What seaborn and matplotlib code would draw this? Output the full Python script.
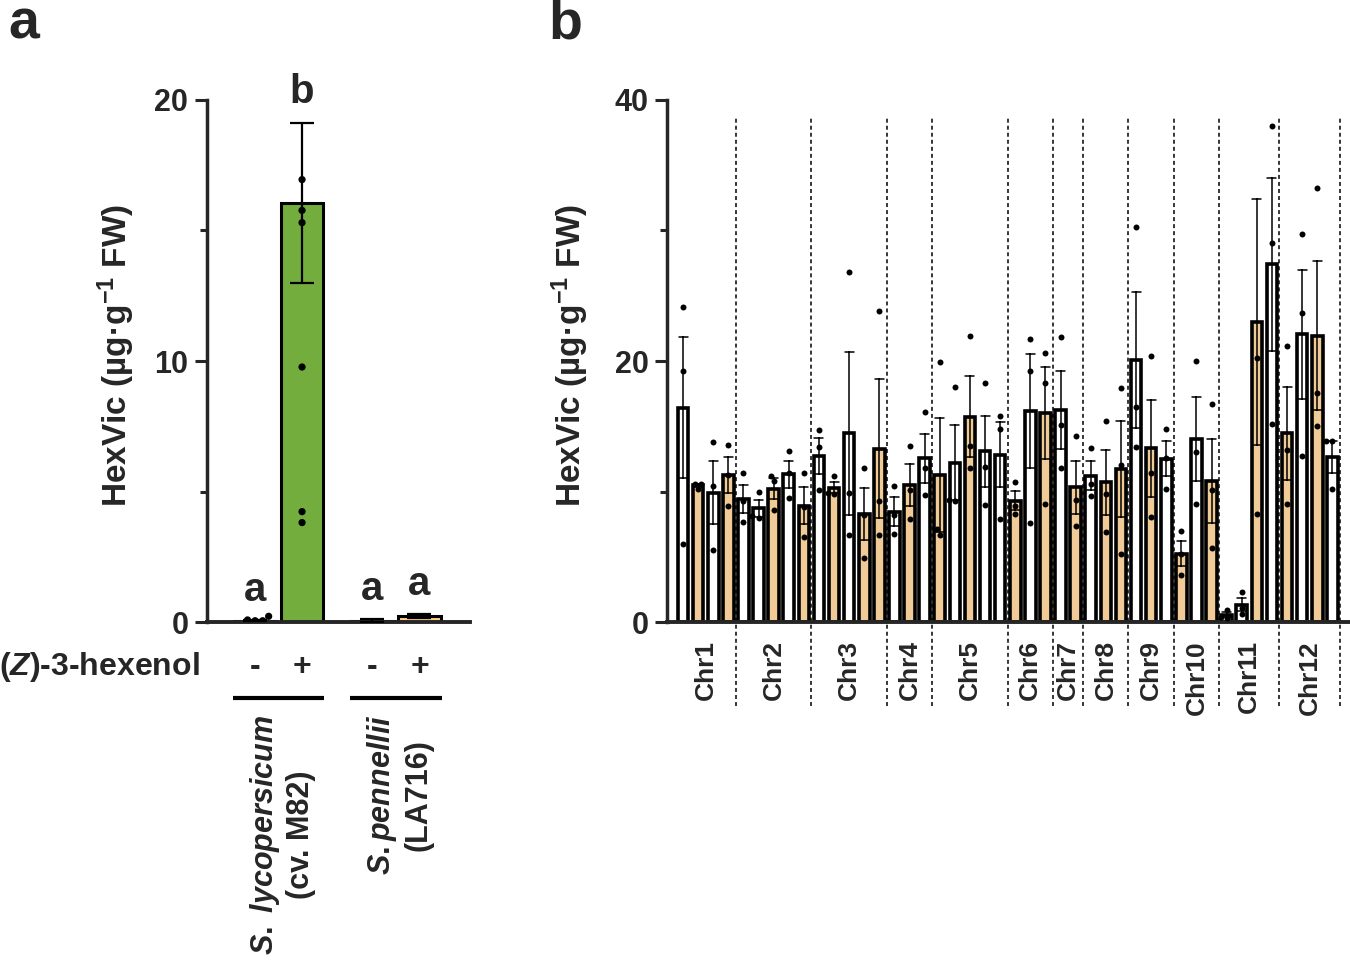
import numpy as np
import pandas as pd
import matplotlib
matplotlib.use('Agg')
import matplotlib.pyplot as plt
import matplotlib.transforms as mtransforms
from matplotlib.ticker import MultipleLocator
import seaborn as sns

sns.set_style('ticks')
plt.rcParams['font.family'] = ['Liberation Sans', 'DejaVu Sans']
plt.rcParams['font.weight'] = 'bold'
plt.rcParams['mathtext.fontset'] = 'custom'
plt.rcParams['mathtext.rm'] = 'Liberation Sans:bold'
plt.rcParams['mathtext.it'] = 'Liberation Sans:italic:bold'
plt.rcParams['mathtext.bf'] = 'Liberation Sans:bold'

# ---- panel a data ----
species = ['S. lycopersicum', 'S. lycopersicum', 'S. pennellii', 'S. pennellii']
treatment = ['-', '+', '-', '+']
a_mean = [0.05, 16.05, 0.05, 0.22]
a_sem = [0.02, 3.07, 0.05, 0.08]
a_letters = ['a', 'b', 'a', 'a']
m82_minus = [0.05, 0.22, 0.08, 0.05]
m82_plus = [16.95, 15.77, 15.3, 9.77, 4.23, 3.81]
species_labels = ['$\\it{S.}$ $\\it{lycopersicum}$\n(cv. M82)', '$\\it{S.pennellii}$\n(LA716)']

# ---- panel b data ----
chr_names = ['Chr1', 'Chr2', 'Chr3', 'Chr4', 'Chr5', 'Chr6',
             'Chr7', 'Chr8', 'Chr9', 'Chr10', 'Chr11', 'Chr12']
chr_sizes = [4, 5, 5, 3, 5, 3, 2, 3, 3, 3, 4, 4]
# W = white bars, O = orange bars
line_type = list('WOWO' 'WWOWO' 'WOWOO' 'WOW' 'OWOWW' 'OWO'
                 'WO' 'WOO' 'WOW' 'OWO' 'WWOW' 'OWOW')
reps = [
    [24.1, 19.2, 6.0], [10.6, 10.2, 10.6], [13.8, 10.45, 5.5], [13.6, 11.3, 8.9],
    [11.4, 9.25, 7.7], [10.0, 8.1, 8.0], [11.2, 10.8, 8.6], [13.1, 11.4, 9.5], [11.4, 8.8, 6.5],
    [14.7, 13.4, 10.1], [11.2, 9.8, 9.9], [26.8, 9.9, 6.7], [11.8, 8.2, 4.9], [23.8, 9.3, 6.7],
    [10.45, 8.2, 6.75], [13.5, 10.1, 7.9], [16.1, 11.8, 9.7],
    [19.95, 6.7, 7.1], [18.0, 9.3, 9.35], [21.9, 13.5, 11.8], [18.3, 11.9, 9.0], [15.8, 14.8, 7.9],
    [10.7, 8.9, 8.25], [21.7, 19.2, 7.55], [20.65, 18.35, 9.05],
    [21.85, 15.1, 11.8], [14.25, 9.35, 7.35],
    [13.35, 10.6, 9.65], [15.4, 9.8, 6.9], [17.9, 12.0, 5.2],
    [30.3, 16.45, 13.4], [20.4, 11.45, 8.05], [14.8, 12.55, 10.2],
    [6.95, 5.2, 3.6], [20.0, 13.05, 9.05], [16.7, 10.15, 5.65],
    [0.95, 0.4, 0.3], [2.3, 1.1, 0.6], [40.5, 20.25, 8.25], [38.0, 29.05, 15.2],
    [21.15, 13.15, 9.05], [29.7, 23.7, 12.7], [33.25, 17.55, 15.05], [13.9, 13.9, 10.2],
]

ORANGE = '#FFCC88'
GREEN = '#72AD3E'

fig = plt.figure(figsize=(13.5, 9.65), dpi=100)
axa = fig.add_axes([0.1533, 0.3554, 0.1948, 0.541])
axb = fig.add_axes([0.4941, 0.3554, 0.5059, 0.541])

# ---------------- panel a ----------------
df_a = pd.DataFrame({'species': species, 'treatment': treatment, 'mean': a_mean})
sp_order = ['S. lycopersicum', 'S. pennellii']
sns.barplot(data=df_a, x='species', y='mean', hue='treatment', order=sp_order,
            hue_order=['-', '+'], errorbar=None, width=0.8, gap=0.1,
            edgecolor='black', linewidth=2.2, legend=False, ax=axa)
bars_a = sorted(axa.patches, key=lambda p: p.get_x())
for p, c in zip(bars_a, ['white', GREEN, 'white', ORANGE]):
    p.set_facecolor(c)
centers_a = [p.get_x() + p.get_width() / 2 for p in bars_a]

axa.errorbar(centers_a, a_mean, yerr=a_sem, fmt='none', ecolor='black',
             elinewidth=1.6, capsize=8.4, capthick=1.6, zorder=3)

dots_a = pd.DataFrame({
    'species': ['S. lycopersicum'] * (len(m82_minus) + len(m82_plus)),
    'treatment': ['-'] * len(m82_minus) + ['+'] * len(m82_plus),
    'value': m82_minus + m82_plus,
})
sns.swarmplot(data=dots_a, x='species', y='value', hue='treatment', order=sp_order,
              hue_order=['-', '+'], palette={'-': 'black', '+': 'black'},
              dodge=True, size=5.2, legend=False, ax=axa, zorder=4)

for x, m, s, let in zip(centers_a, a_mean, a_sem, a_letters):
    axa.text(x, m + s + 0.75, let, ha='center', va='baseline', fontsize=29, fontweight='bold')

axa.set_ylim(0, 20)
axa.set_xlim(-0.61, 1.63)
axa.yaxis.set_major_locator(MultipleLocator(10))
axa.yaxis.set_minor_locator(MultipleLocator(5))
axa.set_xticks([])
axa.set_xlabel('')
axa.set_ylabel('HexVic (µg·g$^{-1}$ FW)', fontsize=24, fontweight='bold')
axa.yaxis.set_label_coords(-0.265, 0.51)

trans_a = mtransforms.blended_transform_factory(axa.transData, axa.transAxes)
axa.text(-0.027, -0.086, '($\\it{Z}$)-3-hexenol', transform=axa.transAxes,
         ha='right', va='center', fontsize=23, fontweight='bold')
for x, sign in zip(centers_a, treatment):
    axa.text(x, -0.086, sign, transform=trans_a, ha='center', va='center',
             fontsize=23, fontweight='bold')
for g, lab in enumerate(species_labels):
    axa.plot([g - 0.39, g + 0.39], [-0.1456, -0.1456], transform=trans_a,
             color='black', lw=3, clip_on=False, solid_capstyle='butt')
    axa.text(g + 0.03, -0.178, lab, transform=trans_a, rotation=90, ha='center',
             va='top', fontsize=22, fontweight='bold', linespacing=1.2)

# ---------------- panel b ----------------
n_bars = len(reps)
df_b = pd.DataFrame({
    'bar': np.repeat(np.arange(n_bars), 3),
    'value': np.concatenate(reps),
    'line': np.repeat(line_type, 3),
})
sns.barplot(data=df_b, x='bar', y='value', hue='line', palette={'W': 'white', 'O': ORANGE},
            dodge=False, errorbar='se', capsize=0.6,
            err_kws={'color': 'black', 'linewidth': 1.1},
            width=0.7, edgecolor='black', linewidth=2.6, legend=False, ax=axb)
sns.swarmplot(data=df_b, x='bar', y='value', color='black', size=4.3, ax=axb, zorder=4)

axb.set_ylim(0, 40)
axb.set_xlim(-1.06, 44.17)
axb.yaxis.set_major_locator(MultipleLocator(20))
axb.yaxis.set_minor_locator(MultipleLocator(10))
axb.set_xticks([])
axb.set_xlabel('')
axb.set_ylabel('HexVic (µg·g$^{-1}$ FW)', fontsize=24, fontweight='bold')
axb.yaxis.set_label_coords(-0.111, 0.51)

trans_b = mtransforms.blended_transform_factory(axb.transData, axb.transAxes)
ends = np.cumsum(chr_sizes)
starts = ends - np.array(chr_sizes)
for name, s, e in zip(chr_names, starts, ends):
    axb.text((s + e - 1) / 2, -0.035, name, transform=trans_b, rotation=90,
             ha='center', va='top', fontsize=19, fontweight='bold')
for e in ends:
    axb.axvline(e - 0.5, ymin=-0.16, ymax=0.965, color='black', lw=1.1,
                ls=(0, (2.6, 2)), clip_on=False, zorder=0)

for ax in (axa, axb):
    sns.despine(ax=ax)
    ax.spines['left'].set_linewidth(2.5)
    ax.spines['bottom'].set_linewidth(2.8)
    ax.tick_params(axis='y', which='major', length=8.4, width=2.2, labelsize=22, pad=5)
    ax.tick_params(axis='y', which='minor', length=4.8, width=2.2)
    for t in ax.get_yticklabels():
        t.set_fontweight('bold')

fig.text(0.006, 0.9606, 'a', fontsize=40, fontweight='bold', va='baseline')
fig.text(0.406, 0.9606, 'b', fontsize=40, fontweight='bold', va='baseline')

fig.savefig('out.png', dpi=100)
